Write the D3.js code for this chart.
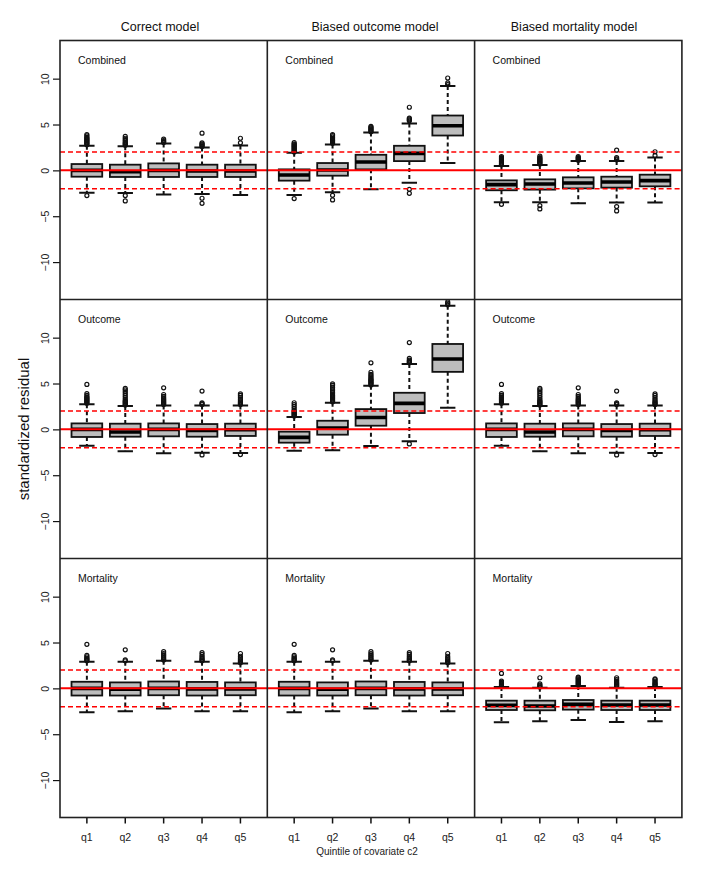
<!DOCTYPE html>
<html><head><meta charset="utf-8">
<script src="https://cdn.jsdelivr.net/npm/d3@7/dist/d3.min.js"></script>
<style>body{margin:0;background:#fff}svg{display:block;font-family:"Liberation Sans",Arial,Helvetica,sans-serif}</style>
</head><body><svg id="c" width="726" height="873"></svg>
<script>
const quintiles = ["q1","q2","q3","q4","q5"];
const models = ["Correct model","Biased outcome model","Biased mortality model"];
const components = ["Combined","Outcome","Mortality"];
const yTicks = [10,5,0,-5,-10];
const refLines = [-2,0,2];

// box stats per quintile: [lower whisker, Q1, median, Q3, upper whisker]
const statsCorrectCombined = [[-2.43,-0.69,0,0.69,2.68],[-2.46,-0.72,-0.15,0.62,2.64],[-2.64,-0.72,0,0.76,2.93],[-2.57,-0.72,-0.07,0.62,2.5],[-2.68,-0.72,-0.07,0.62,2.72]];
const outCorrectCombined = [[2.8,2.9,3.0,3.1,3.2,3.3,3.4,3.5,3.6,3.75,3.9,-2.75],[2.75,2.85,2.95,3.05,3.2,3.35,3.5,3.7,-2.75,-3.33],[3.05,3.15,3.25,3.4],[2.6,2.7,2.8,2.9,3.0,4.06,-3.04,-3.59],[3.0,3.5]];

const statsBiasOutCombined = [[-2.68,-1.12,-0.51,0.11,1.92],[-2.39,-0.58,0.04,0.8,2.83],[-2.07,0.11,0.91,1.7,4.13],[-1.34,1.01,1.85,2.68,5.1],[0.8,3.8,4.86,5.98,9.2]];
const outBiasOutCombined = [[2.0,2.1,2.2,2.3,2.4,2.5,2.6,2.7,2.8,2.9,3.04,-3.08],[2.95,3.05,3.15,3.25,3.35,3.5,3.65,3.8,3.9,-2.72,-3.22],[4.2,4.3,4.4,4.5,4.6,4.7,4.8],[5.4,5.5,5.6,5.7,6.88,-2.07,-2.5],[9.35,9.53,10.07]];

const statsBiasMortCombined = [[-3.48,-2.17,-1.56,-1.09,0.47],[-3.48,-2.1,-1.49,-0.98,0.58],[-3.59,-1.96,-1.38,-0.76,1.01],[-3.51,-1.88,-1.27,-0.69,1.01],[-3.51,-1.74,-1.12,-0.47,1.41]];
const outBiasMortCombined = [[0.6,0.7,0.8,0.9,1.0,1.1,1.2,1.3,1.4,1.5,-3.7],[0.7,0.8,0.9,1.0,1.1,1.2,1.3,1.4,1.56,-3.84,-4.2],[1.1,1.2,1.3,1.4,1.5],[1.15,1.25,1.4,2.2,-3.95,-4.42],[1.6,2.03]];

const statsCorrectOutcome = [[-1.78,-0.83,0,0.65,2.75],[-2.39,-0.8,-0.29,0.62,2.54],[-2.61,-0.76,0,0.65,2.61],[-2.54,-0.8,-0.11,0.58,2.61],[-2.57,-0.72,-0.04,0.62,2.61]];
const outCorrectOutcome = [[2.85,2.95,3.05,3.15,3.25,3.35,3.45,3.55,3.7,3.9,4.9],[2.65,2.75,2.85,2.95,3.05,3.15,3.3,3.5,3.7,3.9,4.1,4.3,4.46],[2.7,2.8,2.9,3.0,3.1,3.2,3.3,3.45,3.6,3.8,4.53],[2.7,2.8,2.9,4.17,-2.79],[2.7,2.8,2.9,3.0,3.15,3.3,3.5,3.7,3.88,-2.75]];

const statsBiasOutOutcome = [[-2.32,-1.45,-0.87,-0.25,1.34],[-2.28,-0.58,0.14,0.94,2.9],[-1.81,0.4,1.3,2.21,4.75],[-1.3,1.78,2.83,3.99,7.14],[2.36,6.27,7.68,9.31,13.48]];
const outBiasOutOutcome = [[1.45,1.55,1.65,1.75,1.85,1.95,2.1,2.3,2.5,2.7,2.9],[3.0,3.1,3.2,3.3,3.4,3.5,3.6,3.7,3.85,4.0,4.2,4.4,4.6,4.8,4.96],[4.85,4.95,5.05,5.15,5.25,5.35,5.45,5.55,5.7,5.85,6.0,6.23,7.25],[7.25,7.35,7.45,7.55,7.75,9.46,-1.59],[13.6,13.75,13.9]];

const statsBiasMortOutcome = [[-1.78,-0.83,0,0.65,2.75],[-2.39,-0.8,-0.29,0.62,2.54],[-2.61,-0.76,0,0.65,2.61],[-2.54,-0.8,-0.11,0.58,2.61],[-2.57,-0.72,-0.04,0.62,2.61]];
const outBiasMortOutcome = [[2.85,2.95,3.05,3.15,3.25,3.35,3.45,3.55,3.7,3.9,4.9],[2.65,2.75,2.85,2.95,3.05,3.15,3.3,3.5,3.7,3.9,4.1,4.3,4.46],[2.7,2.8,2.9,3.0,3.1,3.2,3.3,3.45,3.6,3.8,4.53],[2.7,2.8,2.9,4.17,-2.79],[2.7,2.8,2.9,3.0,3.15,3.3,3.5,3.7,3.88,-2.75]];

const statsCorrectMortality = [[-2.6,-0.78,0,0.72,2.9],[-2.5,-0.78,-0.1,0.65,2.9],[-2.2,-0.75,0,0.75,3.0],[-2.5,-0.78,-0.05,0.7,2.9],[-2.5,-0.75,-0.05,0.65,2.7]];
const outCorrectMortality = [[3.0,3.1,3.2,3.3,3.45,3.6,4.8],[3.0,3.1,4.2],[3.1,3.2,3.35,3.5,3.65,3.8,4.0],[3.0,3.1,3.2,3.35,3.5,3.7,3.9],[2.8,2.9,3.0,3.15,3.3,3.5,3.8]];

const statsBiasOutMortality = [[-2.6,-0.78,0,0.72,2.9],[-2.5,-0.78,-0.1,0.65,2.9],[-2.2,-0.75,0,0.75,3.0],[-2.5,-0.78,-0.05,0.7,2.9],[-2.5,-0.75,-0.05,0.65,2.7]];
const outBiasOutMortality = [[3.0,3.1,3.2,3.3,3.45,3.6,4.8],[3.0,3.1,4.2],[3.1,3.2,3.35,3.5,3.65,3.8,4.0],[3.0,3.1,3.2,3.35,3.5,3.7,3.9],[2.8,2.9,3.0,3.15,3.3,3.5,3.8]];

const statsBiasMortMortality = [[-3.7,-2.36,-1.85,-1.34,0.14],[-3.59,-2.39,-1.92,-1.34,0.07],[-3.44,-2.32,-1.74,-1.27,0.25],[-3.66,-2.36,-1.81,-1.34,0.07],[-3.59,-2.36,-1.81,-1.34,0.14]];
const outBiasMortMortality = [[0.25,0.35,0.45,0.55,0.65,0.8,1.63],[0.15,0.25,0.35,0.5,1.16],[0.35,0.45,0.55,0.65,0.75,0.85,0.95,1.05,1.15,1.23],[0.25,0.35,0.45,0.55,0.65,0.8,0.95,1.16],[0.25,0.35,0.45,0.55,0.65,0.8,0.95,1.05]];

// panel grid [row][col]
const panelStats = [
  [statsCorrectCombined, statsBiasOutCombined, statsBiasMortCombined],
  [statsCorrectOutcome, statsBiasOutOutcome, statsBiasMortOutcome],
  [statsCorrectMortality, statsBiasOutMortality, statsBiasMortMortality]];
const panelOut = [
  [outCorrectCombined, outBiasOutCombined, outBiasMortCombined],
  [outCorrectOutcome, outBiasOutOutcome, outBiasMortOutcome],
  [outCorrectMortality, outBiasOutMortality, outBiasMortMortality]];

const svg = d3.select("#c");
const L = 60, T = 40.5, PW = 207.3, PH = 259;
const titleX = [160, 375, 574];
const defs = svg.append("defs");

for (let r = 0; r < 3; r++) {
  for (let c = 0; c < 3; c++) {
    const x0 = L + c*PW, y0 = T + r*PH;
    const x = d3.scaleBand().domain(quintiles).range([x0 + PW*0.2/5.4, x0 + PW*5.2/5.4]).paddingInner(0).paddingOuter(0);
    const y = d3.scaleLinear().domain([-14.08, 14.16]).range([y0 + PH, y0]);
    const bw = x.bandwidth()*0.8, cw = bw*0.5;
    const id = "clip"+r+c;
    defs.append("clipPath").attr("id", id).append("rect").attr("x", x0).attr("y", y0).attr("width", PW).attr("height", PH);
    const g = svg.append("g").attr("clip-path", `url(#${id})`);
    const stats = panelStats[r][c], outs = panelOut[r][c];
    quintiles.forEach((q, i) => {
      const s = stats[i];
      const cx = x(q) + x.bandwidth()/2;
      const bg = g.append("g");
      bg.append("line").attr("x1", cx).attr("x2", cx).attr("y1", y(s[4])).attr("y2", y(s[3]))
        .attr("stroke","#111").attr("stroke-width",2).attr("stroke-dasharray","4,3");
      bg.append("line").attr("x1", cx).attr("x2", cx).attr("y1", y(s[1])).attr("y2", y(s[0]))
        .attr("stroke","#111").attr("stroke-width",2).attr("stroke-dasharray","4,3");
      [s[0], s[4]].forEach(v => bg.append("line").attr("x1", cx-cw/2).attr("x2", cx+cw/2).attr("y1", y(v)).attr("y2", y(v))
        .attr("stroke","#111").attr("stroke-width",2));
      bg.append("rect").attr("x", cx-bw/2).attr("y", y(s[3])).attr("width", bw).attr("height", y(s[1])-y(s[3]))
        .attr("fill","#bdbdbd").attr("stroke","#111").attr("stroke-width",1.8);
      bg.append("line").attr("x1", cx-bw/2).attr("x2", cx+bw/2).attr("y1", y(s[2])).attr("y2", y(s[2]))
        .attr("stroke","#000").attr("stroke-width",3.6);
      bg.selectAll("circle.o").data(outs[i]).enter().append("circle")
        .attr("cx", cx).attr("cy", d => y(d)).attr("r", 2)
        .attr("fill","none").attr("stroke","#111").attr("stroke-width",1.2);
    });
    refLines.forEach(v => g.append("line").attr("x1", x0).attr("x2", x0+PW).attr("y1", y(v)).attr("y2", y(v))
      .attr("stroke","#ff0000").attr("stroke-width", v===0?2:1.6).attr("stroke-dasharray", v===0?null:"5,3"));
    svg.append("text").attr("x", x0+18).attr("y", y0+23).attr("font-size",10.5).attr("fill","#111").text(components[r]);
    if (c === 0) {
      const ax = svg.append("g").attr("transform", `translate(${x0},0)`)
        .call(d3.axisLeft(y).tickValues(yTicks).tickSize(7).tickPadding(3).tickFormat(d => d < 0 ? "\u2212"+Math.abs(d) : String(d)));
      ax.select(".domain").remove();
      ax.selectAll("line").attr("stroke","#111").attr("stroke-width",1.2);
      ax.selectAll("text").attr("x", 0).attr("y", 0).attr("dy", null)
        .attr("transform", "translate(-15,0) rotate(-90)")
        .attr("dominant-baseline","central").attr("text-anchor","middle")
        .attr("font-size",10.5).attr("fill","#222").attr("font-family","\"Liberation Sans\",Arial,sans-serif");
    }
    if (r === 2) {
      const ax = svg.append("g").attr("transform", `translate(0,${y0+PH})`)
        .call(d3.axisBottom(x).tickSize(6).tickPadding(10));
      ax.select(".domain").remove();
      ax.selectAll("line").attr("stroke","#111").attr("stroke-width",1.5);
      ax.selectAll("text").attr("font-size",10.5).attr("fill","#222").attr("font-family","\"Liberation Sans\",Arial,sans-serif");
    }
    if (r === 0) {
      svg.append("text").attr("x", titleX[c]).attr("y", 31).attr("text-anchor","middle")
        .attr("font-size",12.5).attr("fill","#111").text(models[c]);
    }
  }
}
const fr = svg.append("g").attr("fill","none").attr("stroke","#222").attr("stroke-width",1.6);
fr.append("rect").attr("x", L).attr("y", T).attr("width", PW*3).attr("height", PH*3);
for (let k = 1; k < 3; k++) {
  fr.append("line").attr("x1", L+k*PW).attr("x2", L+k*PW).attr("y1", T).attr("y2", T+3*PH);
  fr.append("line").attr("x1", L).attr("x2", L+3*PW).attr("y1", T+k*PH).attr("y2", T+k*PH);
}
svg.append("text").attr("x", 367).attr("y", 855).attr("text-anchor","middle").attr("font-size",10).attr("fill","#222").text("Quintile of covariate c2");
svg.append("text").attr("transform", `translate(29,${T+1.5*PH}) rotate(-90)`).attr("text-anchor","middle")
  .attr("font-size",15).attr("fill","#111").text("standardized residual");
</script></body></html>
